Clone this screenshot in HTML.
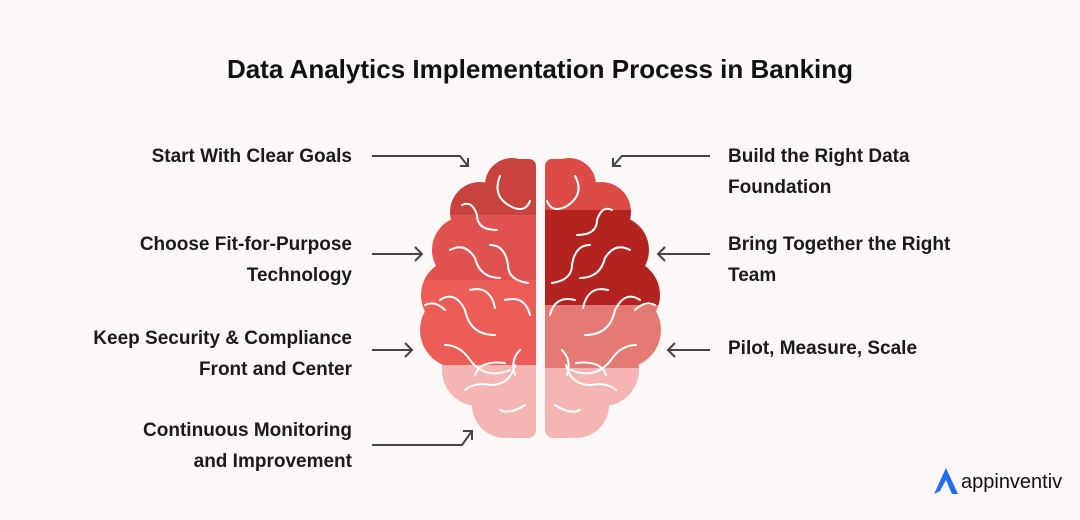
<!DOCTYPE html>
<html><head><meta charset="utf-8"><style>
body{margin:0;width:1080px;height:520px;background:#fdf8f8;font-family:"Liberation Sans",sans-serif;color:#1a1a1a;position:relative;overflow:hidden}
.t{position:absolute;font-size:19px;line-height:31px;font-weight:bold}
.l{text-align:right;right:728px}
.r{left:728px}
h1{position:absolute;top:54px;left:0;width:1080px;text-align:center;margin:0;font-size:26px;font-weight:bold;color:#111}
</style></head><body>
<h1>Data Analytics Implementation Process in Banking</h1>
<div class="t l" style="top:141px">Start With Clear Goals</div>
<div class="t l" style="top:229px">Choose Fit-for-Purpose<br>Technology</div>
<div class="t l" style="top:323px">Keep Security &amp; Compliance<br>Front and Center</div>
<div class="t l" style="top:415px">Continuous Monitoring<br>and Improvement</div>
<div class="t r" style="top:141px">Build the Right Data<br>Foundation</div>
<div class="t r" style="top:229px">Bring Together the Right<br>Team</div>
<div class="t r" style="top:333px">Pilot, Measure, Scale</div>
<svg width="1080" height="520" style="position:absolute;left:0;top:0">
<defs>
<clipPath id="L"><circle cx="512" cy="185" r="27"/><circle cx="480" cy="212" r="30"/><circle cx="466" cy="250" r="34"/><circle cx="457" cy="295" r="36"/><circle cx="458" cy="330" r="38"/><circle cx="478" cy="370" r="36"/><circle cx="505" cy="405" r="33"/><rect x="480" y="200" width="56" height="210"/><rect x="495" y="180" width="41" height="240"/><rect x="510" y="159" width="26" height="40" rx="7"/><rect x="505" y="380" width="31" height="58" rx="8"/></clipPath>
<clipPath id="R"><circle cx="569" cy="185" r="27"/><circle cx="601" cy="212" r="30"/><circle cx="615" cy="250" r="34"/><circle cx="624" cy="295" r="36"/><circle cx="623" cy="330" r="38"/><circle cx="603" cy="370" r="36"/><circle cx="576" cy="405" r="33"/><rect x="545" y="200" width="56" height="210"/><rect x="545" y="180" width="41" height="240"/><rect x="545" y="159" width="26" height="40" rx="7"/><rect x="545" y="380" width="31" height="58" rx="8"/></clipPath>
</defs>
<g clip-path="url(#L)">
<rect x="400" y="150" width="136" height="65" fill="#c8433e"/>
<rect x="400" y="215" width="136" height="65" fill="#df524f"/>
<rect x="400" y="280" width="136" height="85" fill="#ec5d58"/>
<rect x="400" y="365" width="136" height="80" fill="#f4b5b3"/>
</g>
<g clip-path="url(#R)">
<rect x="545" y="150" width="136" height="60" fill="#dd4b47"/>
<rect x="545" y="210" width="136" height="95" fill="#b3231f"/>
<rect x="545" y="305" width="136" height="63" fill="#e57a74"/>
<rect x="545" y="368" width="136" height="80" fill="#f4b5b3"/>
</g>
<g fill="none" stroke="#fff" stroke-width="2" stroke-linecap="round">
<path d="M500 176 q-8 20 10 30 q15 8 20 -5"/><path d="M462 205 q10 -5 15 10 q0 15 20 15"/><path d="M450 250 q15 -8 25 8 q5 20 25 20"/><path d="M490 245 q15 0 18 20 q0 15 20 18"/><path d="M440 300 q15 -10 25 10 q5 25 30 25"/><path d="M470 290 q20 -5 25 18"/><path d="M505 300 q20 -5 25 15"/><path d="M445 345 q15 0 25 15 q15 20 40 10"/><path d="M475 375 q5 -15 30 -12"/><path d="M465 390 q10 -8 25 -5 q20 0 25 -20"/><path d="M500 410 q10 5 25 -5"/><path d="M520 350 q-10 10 -5 25"/><path d="M425 305 q10 -5 20 5"/>
<path d="M575 176 q10 18 -8 30 q-15 8 -20 -5"/><path d="M612 210 q-10 -5 -15 10 q0 15 -20 15"/><path d="M630 250 q-15 -8 -25 8 q-5 20 -25 20"/><path d="M590 245 q-15 0 -18 20 q0 15 -20 18"/><path d="M640 300 q-15 -10 -25 10 q-5 25 -30 25"/><path d="M608 290 q-20 -5 -25 18"/><path d="M575 300 q-20 -5 -25 15"/><path d="M636 345 q-15 0 -25 15 q-15 20 -40 10"/><path d="M606 375 q-5 -15 -30 -12"/><path d="M616 390 q-10 -8 -25 -5 q-20 0 -25 -20"/><path d="M580 410 q-10 5 -25 -5"/><path d="M562 350 q10 10 5 25"/><path d="M655 305 q-10 -5 -20 5"/>
</g>
<g fill="none" stroke="#444" stroke-width="2">
<path d="M372 156 H460 L468 166"/><path d="M460 166 H468 V158"/>
<path d="M372 254 H422"/><path d="M415 247 L422 254 L415 261"/>
<path d="M372 350 H412"/><path d="M405 343 L412 350 L405 357"/>
<path d="M372 445 H462 L472 431"/><path d="M463 431 H472 V440"/>
<path d="M710 156 H622 L613 166"/><path d="M621 166 H613 V158"/>
<path d="M710 254 H658"/><path d="M665 247 L658 254 L665 261"/>
<path d="M710 350 H668"/><path d="M675 343 L668 350 L675 357"/>
</g>
<path d="M934 494 L946 468 L958 494 L952 494 L946 480 L940 491 Z" fill="#1f6ff0"/>
</svg>
<div style="position:absolute;left:961px;top:471px;font-size:20px;color:#111">appinventiv</div>
</body></html>
